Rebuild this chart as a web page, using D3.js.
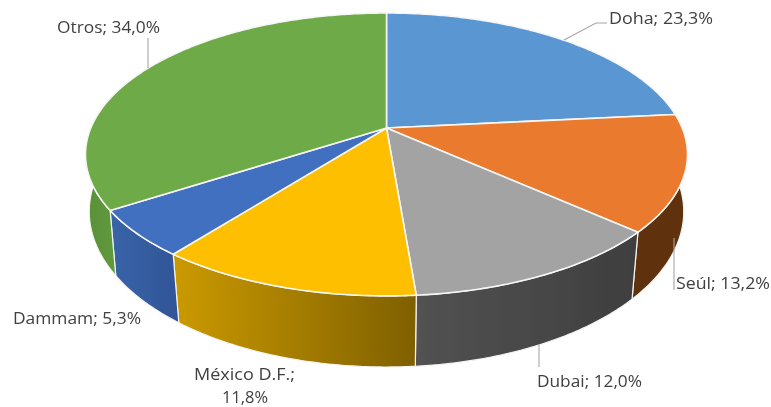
<!DOCTYPE html>
<html><head><meta charset="utf-8">
<script src="https://cdn.jsdelivr.net/npm/d3@7/dist/d3.min.js"></script>
<style>html,body{margin:0;padding:0;background:#fff}svg{display:block}</style>
</head><body><svg id="c" width="771" height="407"></svg>
<script>
const cities = ["Doha","Seúl","Dubai","México D.F.","Dammam","Otros"];
const values = [23.3,13.2,12.0,11.8,5.3,34.0];
const valueLabels = ["23,3%","13,2%","12,0%","11,8%","5,3%","34,0%"];
const topColors = ["#5a97d2","#e97a2f","#a3a3a3","#fdbf00","#4270c0","#6eaa47"];
const wallLeft = ["#5a97d2","#5f3210","#525252","#cb9a00","#3a64a8","#5a8f38"];
const wallRight = ["#5a97d2","#5f3210","#3e3e3e","#7f6000","#2f5597","#64a03e"];

const svg = d3.select("#c");
const defs = svg.append("defs");
defs.append("filter").attr("id","soft").append("feGaussianBlur").attr("stdDeviation",0.45);
const root = svg.append("g").attr("filter","url(#soft)");

// Perspective projection of the upper and lower discs
const topDisc = {cx:386.5, cy:128, a:295.7, b:136.5, k:0.187};
const lowDisc = {cx:386.5, cy:185.5, a:293, b:151, k:0.168};
function project(d, ang){
  const X = Math.sin(ang), Y = -Math.cos(ang), w = 1 - d.k*Y;
  return [d.cx + d.a*X/w, d.cy + d.b*Y/w];
}
const arcs = d3.pie().sort(null).value(d=>d)(values);
const line = d3.line();
const sample = (a0,a1)=>{
  const n = Math.max(2, Math.ceil(Math.abs(a1-a0)/0.01));
  return d3.range(n+1).map(i=>a0+(a1-a0)*i/n);
};

// Walls, near side only
const lo = Math.PI*0.40, hi = Math.PI*1.62;
arcs.forEach((s,i)=>{
  const a0 = Math.max(s.startAngle,lo), a1 = Math.min(s.endAngle,hi);
  if(a1<=a0) return;
  const upper = sample(a0,a1).map(a=>project(topDisc,a));
  const lower = sample(a0,a1).map(a=>project(lowDisc,a)).reverse();
  const pts = upper.concat(lower);
  const [x0,x1] = d3.extent(pts,p=>p[0]);
  const leftToRight = defs.append("linearGradient").attr("id","w"+i)
    .attr("gradientUnits","userSpaceOnUse").attr("x1",x0).attr("x2",x1).attr("y1",0).attr("y2",0);
  leftToRight.append("stop").attr("offset",0).attr("stop-color",wallLeft[i]);
  leftToRight.append("stop").attr("offset",1).attr("stop-color",wallRight[i]);
  root.append("path").attr("d",line(pts)+"Z").attr("fill",`url(#w${i})`)
    .attr("stroke","#f4f4f4").attr("stroke-width",1.2).attr("stroke-linejoin","round");
});

// Upper face
arcs.forEach((s,i)=>{
  const pts = sample(s.startAngle,s.endAngle).map(a=>project(topDisc,a));
  pts.push([topDisc.cx,topDisc.cy]);
  root.append("path").attr("d",line(pts)+"Z").attr("fill",topColors[i])
    .attr("stroke","#f6f6f6").attr("stroke-width",1.6).attr("stroke-linejoin","round");
});

// Leader lines
const leaders = [
  [[564,40],[596,23],[607,23]],
  [[674,238],[674,290]],
  [[539,345],[539,367]],
  [[148,68],[148,38]]
];
leaders.forEach(l=>root.append("path").attr("d",line(l)).attr("fill","none")
  .attr("stroke","#a6a6a6").attr("stroke-width",1.1));

// Labels
const labelBoxes = [
  {i:0,x:609,y:18,w:104},
  {i:1,x:676,y:283,w:94},
  {i:2,x:537,y:381,w:105},
  {i:4,x:13,y:318,w:128},
  {i:5,x:57,y:27,w:103}
];
const txt = (str,x,y,w)=>root.append("text").attr("x",x).attr("y",y).attr("dy","0.35em")
  .attr("font-family","'Open Sans',sans-serif").attr("font-size",16).attr("fill","#404040")
  .attr("textLength",w).attr("lengthAdjust","spacingAndGlyphs").text(str);
labelBoxes.forEach(b=>txt(`${cities[b.i]}; ${valueLabels[b.i]}`,b.x,b.y,b.w));
txt(`${cities[3]};`,194,374,101);
txt(valueLabels[3],222,397,46);
</script></body></html>
